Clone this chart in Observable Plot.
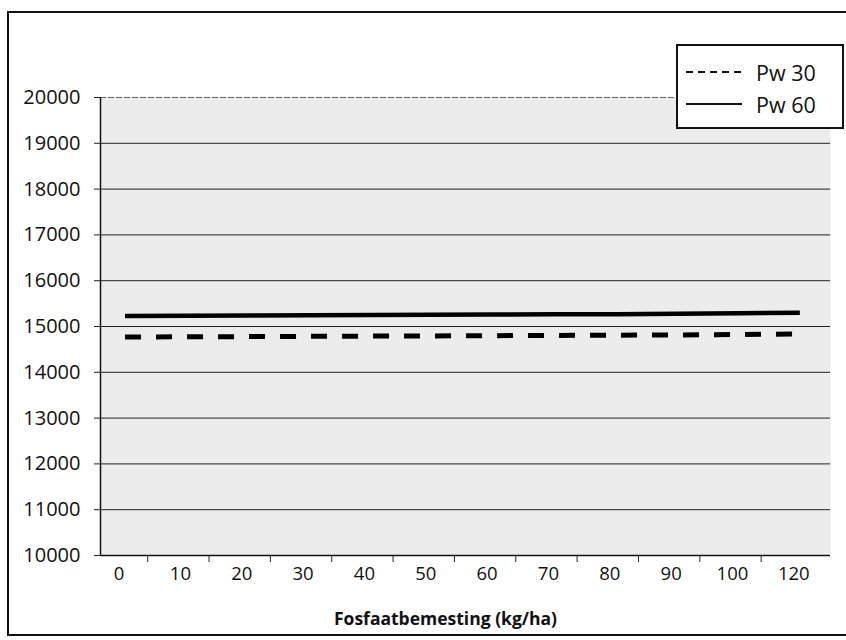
<!DOCTYPE html>
<html>
<head>
<meta charset="utf-8">
<script src="https://cdn.jsdelivr.net/npm/d3@7"></script>
<script src="https://cdn.jsdelivr.net/npm/@observablehq/plot@0.6"></script>
<style>
  html, body { margin: 0; padding: 0; background: #fff; overflow: hidden; }
  #wrap { position: relative; width: 846px; height: 640px; font-family: "Open Sans", sans-serif; }
  #border { position: absolute; left: 7px; top: 11px; width: 900px; height: 625px; border: 2px solid #111; box-sizing: border-box; }
  #chart { position: absolute; left: 0; top: 0; }
  #chart svg g[aria-label="y-axis tick label"] { font-size: 20px; }
  #chart svg g[aria-label="x-axis tick label"] { font-size: 18.5px; }
  #legend { position: absolute; left: 676px; top: 44px; width: 168px; height: 85px; border: 2px solid #111; background: #fff; box-sizing: border-box; }
  .row { position: absolute; left: 8px; height: 26px; display: flex; align-items: center; }
  .row span { font-size: 21.5px; color: #111; margin-left: 14px; }
</style>
</head>
<body>
<div id="wrap">
  <div id="border"></div>
  <div id="chart"></div>
  <div id="legend"></div>
</div>
<script>
// Data
const categories = ["0","10","20","30","40","50","60","70","80","90","100","120"];
const pw30 = [14770,14775,14780,14785,14790,14795,14800,14805,14810,14815,14825,14835];
const pw60 = [15230,15235,15240,15245,15250,15255,15260,15265,15270,15280,15290,15300];
const yTicks = [10000,11000,12000,13000,14000,15000,16000,17000,18000,19000,20000];
const seriesNames = ["Pw 30", "Pw 60"];
const xTitle = "Fosfaatbemesting (kg/ha)";

const idx = categories.map((c, i) => i);
const rows = [];
idx.forEach(i => rows.push({i, v: pw30[i], s: seriesNames[0]}));
idx.forEach(i => rows.push({i, v: pw60[i], s: seriesNames[1]}));
const boundaries = idx.slice(0, -1).map(i => i + 0.5);

const font = "Open Sans, sans-serif";

const chart = Plot.plot({
  width: 846,
  height: 640,
  marginLeft: 100,
  marginRight: 16,
  marginTop: 97,
  marginBottom: 85,
  style: { fontFamily: font, fontSize: "17px", background: "transparent", color: "#111" },
  x: { type: "linear", domain: [-0.4, 11.5] },
  y: { domain: [10000, 20000] },
  marks: [
    Plot.frame({ fill: "#ececec", stroke: null }),
    Plot.gridY(yTicks.filter(t => t > 10000 && t < 20000), { stroke: "#222", strokeOpacity: 1, strokeWidth: 1 }),
    Plot.gridY([20000], { stroke: "#666", strokeOpacity: 1, strokeWidth: 1, strokeDasharray: "6,2" }),
    Plot.axisY(yTicks, { tickSize: 6, tickPadding: 14, fontSize: 20, tickFormat: d => String(d), label: null, stroke: "#222" }),
    Plot.ruleX([-0.4], { y1: 10000, y2: 20000, stroke: "#111", strokeWidth: 1.5 }),
    Plot.ruleY([10000], { stroke: "#111", strokeWidth: 1.5 }),
    Plot.axisX(boundaries, { tickSize: 7, tickFormat: () => "", dx: -8, label: null, stroke: "#222" }),
    Plot.axisX(idx, { tickSize: 0, tickPadding: 11, dx: -6, fontSize: 18.5, tickFormat: i => categories[i], label: null }),
    Plot.line(rows.filter(d => d.s === seriesNames[0]), { x: "i", y: "v", stroke: "#000", strokeWidth: 5, strokeDasharray: "16,15", strokeLinecap: "butt" }),
    Plot.line(rows.filter(d => d.s === seriesNames[1]), { x: "i", y: "v", stroke: "#000", strokeWidth: 4.5, strokeLinecap: "butt" }),
    Plot.text([xTitle], { frameAnchor: "bottom", dy: 69, dx: -20, fontWeight: "bold", fontSize: 17.5, lineAnchor: "bottom", fill: "#111" })
  ]
});
document.getElementById("chart").appendChild(chart);

// Legend
const legend = document.getElementById("legend");
const dashes = ["7,5", null];
seriesNames.forEach((name, k) => {
  const row = document.createElement("div");
  row.className = "row";
  row.style.top = (13 + k * 32) + "px";
  const svg = d3.create("svg").attr("width", 56).attr("height", 10);
  svg.append("line").attr("x1", 0).attr("x2", 56).attr("y1", 5).attr("y2", 5)
    .attr("stroke", "#111").attr("stroke-width", 2)
    .attr("stroke-dasharray", dashes[k]);
  row.appendChild(svg.node());
  const sp = document.createElement("span");
  sp.textContent = name;
  row.appendChild(sp);
  legend.appendChild(row);
});
</script>
</body>
</html>
